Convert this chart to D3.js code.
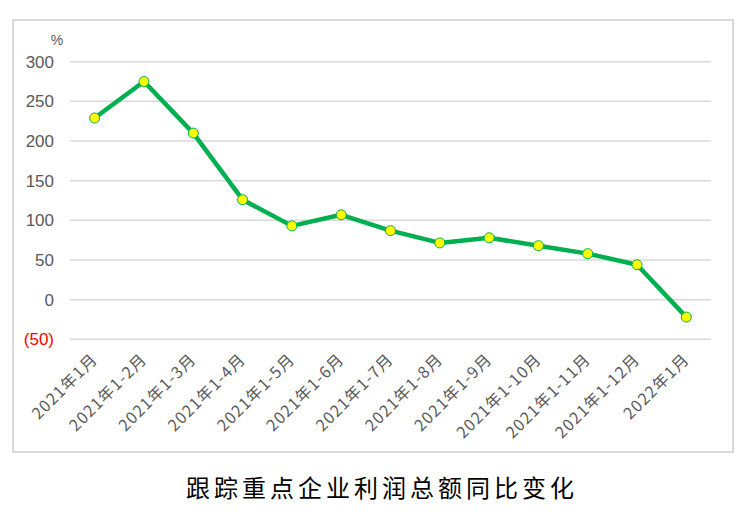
<!DOCTYPE html>
<html><head><meta charset="utf-8">
<script src="https://cdn.jsdelivr.net/npm/d3@7"></script>
<style>body{margin:0;background:#fff}svg{display:block}</style>
</head><body>
<svg id="c" width="745" height="524"></svg>
<script>
const categories = ["2021年1月","2021年1-2月","2021年1-3月","2021年1-4月","2021年1-5月","2021年1-6月","2021年1-7月","2021年1-8月","2021年1-9月","2021年1-10月","2021年1-11月","2021年1-12月","2022年1月"];
const values = [229, 275, 210, 126, 93, 107, 87, 71.5, 78, 68, 58, 44, -22];
const yTicks = [-50, 0, 50, 100, 150, 200, 250, 300];
const title = "跟踪重点企业利润总额同比变化";
const unit = "%";

const svg = d3.select("#c");
svg.append("rect").attr("x",13).attr("y",20).attr("width",720).attr("height",432)
  .attr("fill","#fff").attr("stroke","#d9d9d9").attr("stroke-width",2);

const x = d3.scaleBand().domain(categories).range([70,711]);
const y = d3.scaleLinear().domain([-50,300]).range([339.3,61.7]);

const grid = svg.append("g");
grid.selectAll("line").data(yTicks).join("line")
  .attr("x1",70).attr("x2",711).attr("y1",d=>y(d)).attr("y2",d=>y(d))
  .attr("stroke","#d9d9d9").attr("stroke-width",1.5);

const yAxis = svg.append("g").attr("transform","translate(54,0)")
  .call(d3.axisLeft(y).tickValues(yTicks).tickSize(0).tickPadding(0)
    .tickFormat(d=> d<0 ? "("+Math.abs(d)+")" : d));
yAxis.select(".domain").remove();
yAxis.selectAll("text").attr("font-family","Liberation Sans, Arial, sans-serif")
  .attr("font-size",17).attr("fill",d=>d<0?"#ff0000":"#595959");

svg.append("text").attr("x",57).attr("y",45).attr("text-anchor","middle")
  .attr("font-family","Liberation Sans, Arial, sans-serif").attr("font-size",14)
  .attr("fill","#595959").text(unit);

const xAxis = svg.append("g").attr("transform","translate(0,339.3)")
  .call(d3.axisBottom(x).tickSize(0).tickPadding(0));
xAxis.select(".domain").remove();
xAxis.selectAll("text")
  .attr("font-family","Noto Sans CJK SC, Liberation Sans, sans-serif")
  .attr("font-size",16).attr("letter-spacing",1.2).attr("fill","#595959")
  .attr("text-anchor","end").attr("dy",null).attr("y",0)
  .attr("transform","translate(4,21) rotate(-45)");

const cx = d => x(d) + x.bandwidth()/2;
const line = d3.line().x((d,i)=>cx(categories[i])).y(d=>y(d));
svg.append("path").datum(values).attr("d",line).attr("fill","none")
  .attr("stroke","#00b050").attr("stroke-width",4.5).attr("stroke-linejoin","round");
svg.selectAll("circle.pt").data(values).join("circle").attr("class","pt")
  .attr("cx",(d,i)=>cx(categories[i])).attr("cy",d=>y(d)).attr("r",5)
  .attr("fill","#ffff00").attr("stroke","#00b050").attr("stroke-width",1);

svg.append("text").attr("x",382).attr("y",497).attr("text-anchor","middle")
  .attr("font-family","Noto Sans CJK SC, sans-serif").attr("font-size",24)
  .attr("letter-spacing",4).attr("fill","#000").text(title);
</script>
</body></html>
